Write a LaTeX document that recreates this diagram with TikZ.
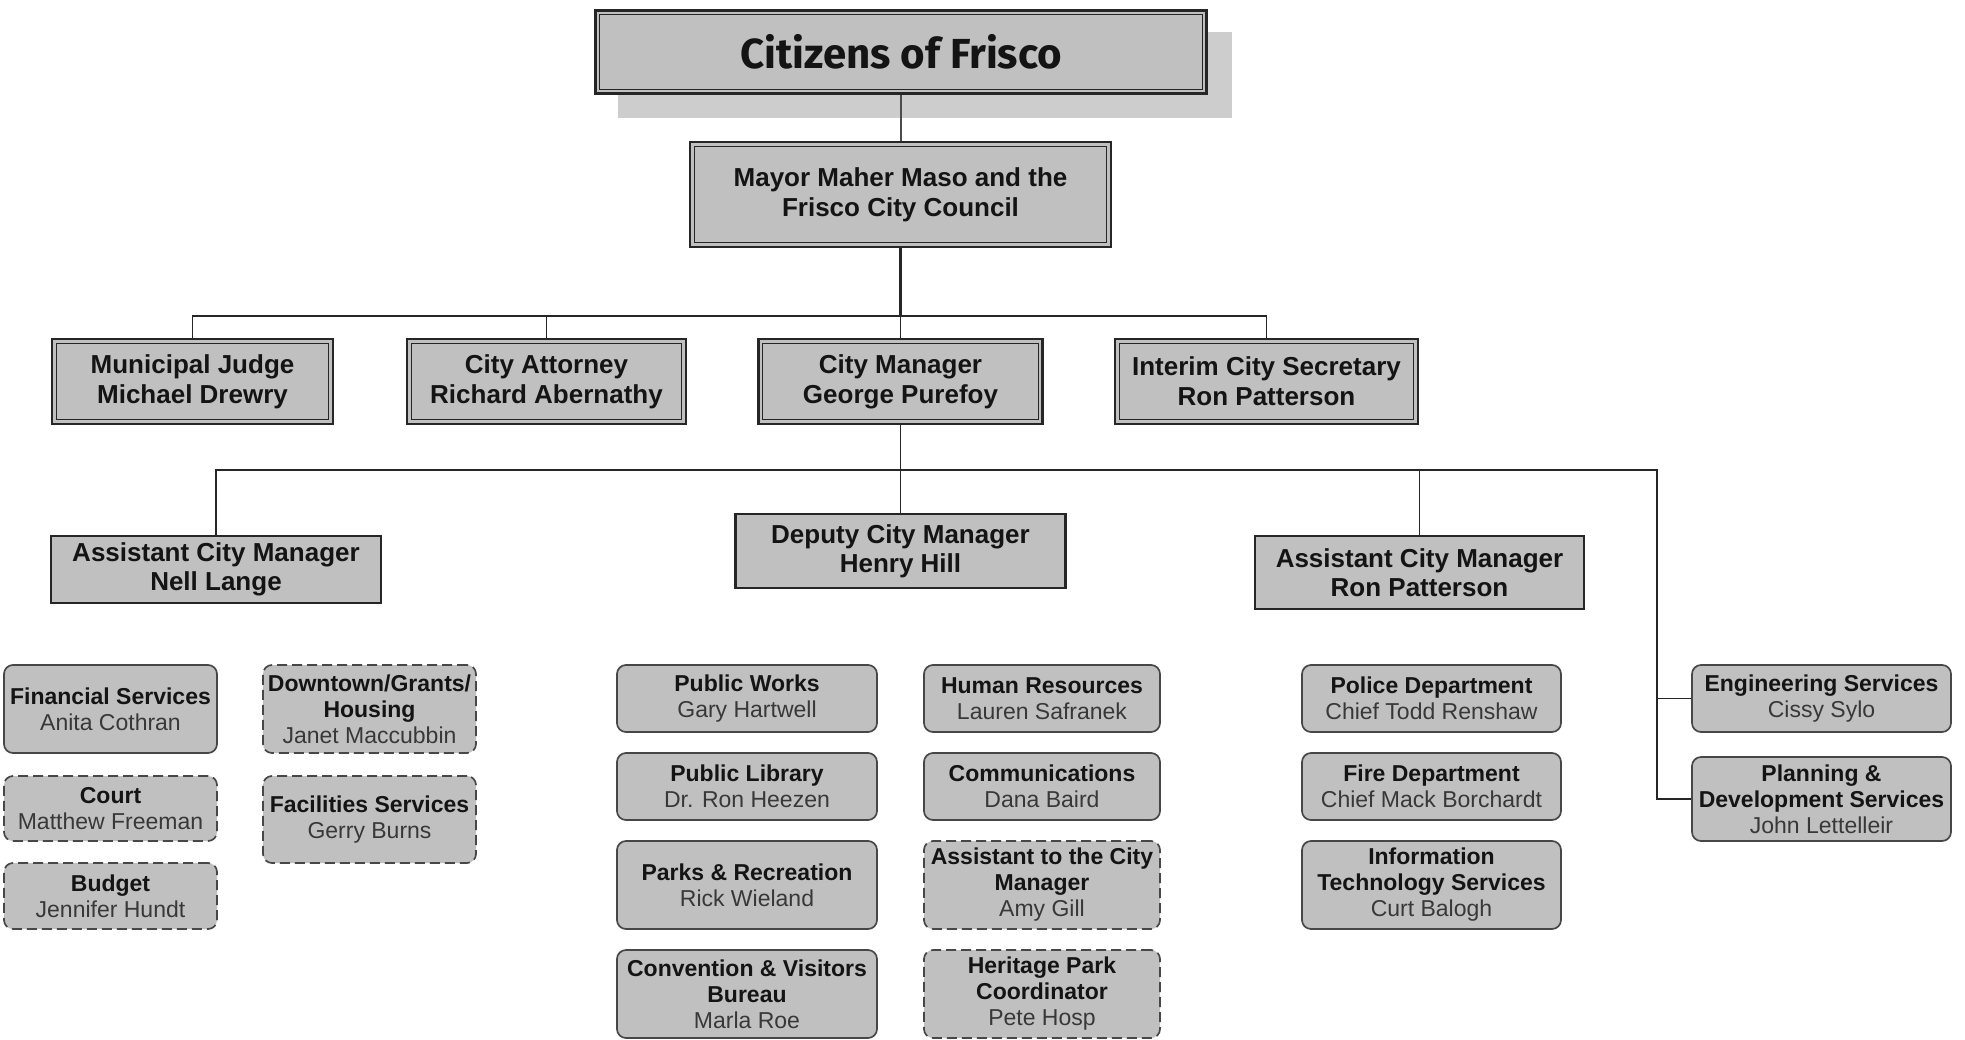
\documentclass[tikz,border=0pt]{standalone}
\usepackage{fontspec}
\setmainfont{Liberation Sans}
\newfontfamily\titlefont{Fira Sans}
\usetikzlibrary{backgrounds}
\definecolor{boxfill}{HTML}{C0C0C0}
\definecolor{shadowgray}{HTML}{CDCDCD}
\definecolor{namegray}{HTML}{383838}
\definecolor{edge}{HTML}{262626}
\newcommand\unit[2]{\textbf{#1}\\\textcolor{namegray}{#2}}
\tikzset{
  base/.style={fill=boxfill, inner sep=0pt, align=center, anchor=center, text=black!92},
  dblbox/.style={base, draw=edge, line width=2.6pt,
    path picture={\draw[edge, line width=1.3pt]
      ([shift={(4.2pt,4.2pt)}]path picture bounding box.south west) rectangle
      ([shift={(-4.2pt,-4.2pt)}]path picture bounding box.north east);},
    font=\fontsize{26}{30}\selectfont\bfseries},
  mgrbox/.style={base, draw=edge, line width=2.4pt, font=\fontsize{26}{29}\selectfont\bfseries},
  unitbox/.style={base, draw=black!72, line width=1.7pt, rounded corners=9pt,
    font=\fontsize{23}{26}\selectfont},
  dashbox/.style={unitbox, dash pattern=on 10pt off 5pt},
  conn/.style={draw=edge, line width=1.7pt},
}
\begin{document}
\begin{tikzpicture}[x=1pt, y=-1pt]
\useasboundingbox (0,0) rectangle (1965,1039);

% top
\node[dblbox, minimum width=611pt, minimum height=83pt, font=\titlefont\fontsize{42}{46}\selectfont\bfseries] (title) at (901,52) {Citizens of Frisco};
\begin{scope}[on background layer]
  \fill[shadowgray] ([shift={(24pt,-23pt)}]title.south west) rectangle ([shift={(24pt,-23pt)}]title.north east);
\end{scope}
\node[dblbox, minimum width=421pt, minimum height=105pt] (mayor) at (900.5,194.5) {Mayor Maher Maso and the\\Frisco City Council};

% second row
\node[dblbox, minimum width=281pt, minimum height=85pt] (judge) at (192.5,381.5) {Municipal Judge\\Michael Drewry};
\node[dblbox, minimum width=279pt, minimum height=85pt] (attorney) at (546.5,381.5) {City Attorney\\Richard Abernathy};
\node[dblbox, minimum width=284pt, minimum height=85pt] (cm) at (900.5,381.5) {City Manager\\George Purefoy};
\node[dblbox, minimum width=303pt, minimum height=85pt] (secretary) at (1266.5,381.5) {Interim City Secretary\\Ron Patterson};

% third row
\node[mgrbox, minimum width=330pt, minimum height=67pt] (nell) at (216,569.5) {Assistant City Manager\\Nell Lange};
\node[mgrbox, minimum width=330pt, minimum height=74pt] (deputy) at (900.5,551) {Deputy City Manager\\Henry Hill};
\node[mgrbox, minimum width=329pt, minimum height=73pt] (ron) at (1419.5,572.5) {Assistant City Manager\\Ron Patterson};

% column A
\node[unitbox, minimum width=213pt, minimum height=88pt] (fin) at (110.5,709) {\unit{Financial Services}{Anita Cothran}};
\node[dashbox, minimum width=213pt, minimum height=65pt] (court) at (110.5,808.5) {\unit{Court}{Matthew Freeman}};
\node[dashbox, minimum width=213pt, minimum height=66pt] (budget) at (110.5,896) {\unit{Budget}{Jennifer Hundt}};
% column B
\node[dashbox, minimum width=213pt, minimum height=88pt] (downtown) at (369.5,709) {\textbf{Downtown/Grants/}\\\textbf{Housing}\\\textcolor{namegray}{Janet Maccubbin}};
\node[dashbox, minimum width=213pt, minimum height=87pt] (facilities) at (369.5,819.5) {\unit{Facilities Services}{Gerry Burns}};
% column C
\node[unitbox, minimum width=260pt, minimum height=67pt] (works) at (747,698.5) {\unit{Public Works}{Gary Hartwell}};
\node[unitbox, minimum width=260pt, minimum height=67pt] (library) at (747,786.5) {\unit{Public Library}{Dr. Ron Heezen}};
\node[unitbox, minimum width=260pt, minimum height=88pt] (parks) at (747,885) {\unit{Parks \& Recreation}{Rick Wieland}};
\node[unitbox, minimum width=260pt, minimum height=88pt] (cvb) at (747,994) {\textbf{Convention \& Visitors}\\\textbf{Bureau}\\\textcolor{namegray}{Marla Roe}};
% column D
\node[unitbox, minimum width=236pt, minimum height=67pt] (hr) at (1042,698.5) {\unit{Human Resources}{Lauren Safranek}};
\node[unitbox, minimum width=236pt, minimum height=67pt] (comm) at (1042,786.5) {\unit{Communications}{Dana Baird}};
\node[dashbox, minimum width=236pt, minimum height=88pt] (asst) at (1042,885) {\textbf{Assistant to the City}\\\textbf{Manager}\\\textcolor{namegray}{Amy Gill}};
\node[dashbox, minimum width=236pt, minimum height=88pt] (heritage) at (1042,994) {\textbf{Heritage Park}\\\textbf{Coordinator}\\\textcolor{namegray}{Pete Hosp}};
% column E
\node[unitbox, minimum width=259pt, minimum height=67pt] (police) at (1431.5,698.5) {\unit{Police Department}{Chief Todd Renshaw}};
\node[unitbox, minimum width=259pt, minimum height=67pt] (fire) at (1431.5,786.5) {\unit{Fire Department}{Chief Mack Borchardt}};
\node[unitbox, minimum width=259pt, minimum height=88pt] (it) at (1431.5,885) {\textbf{Information}\\\textbf{Technology Services}\\\textcolor{namegray}{Curt Balogh}};
% column F
\node[unitbox, minimum width=259pt, minimum height=67pt] (eng) at (1821.5,698.5) {\unit{Engineering Services}{Cissy Sylo}};
\node[unitbox, minimum width=259pt, minimum height=84pt] (planning) at (1821.5,799) {\textbf{Planning \&}\\\textbf{Development Services}\\\textcolor{namegray}{John Lettelleir}};

% connectors
\coordinate (b1) at (900.5,316);
\coordinate (b2) at (900.5,470);
\coordinate (r1) at (1657,470);
\draw[draw=black!70, line width=1.2pt] (title.south) -- (title.south |- mayor.north);
\draw[conn, line width=2.6pt] (mayor.south) -- (b1);
\draw[conn] (b1) -- (cm.north);
\draw[conn] (judge.north) |- (b1) -| (secretary.north);
\draw[conn] (attorney.north) -- (attorney.north |- b1);
\draw[conn] (cm.south) -- (deputy.north);
\draw[conn] (nell.north) |- (r1) |- (planning.west);
\draw[conn] (ron.north) -- (ron.north |- b2);
\draw[conn] (eng.west) -- (eng.west -| r1);
\end{tikzpicture}
\end{document}
